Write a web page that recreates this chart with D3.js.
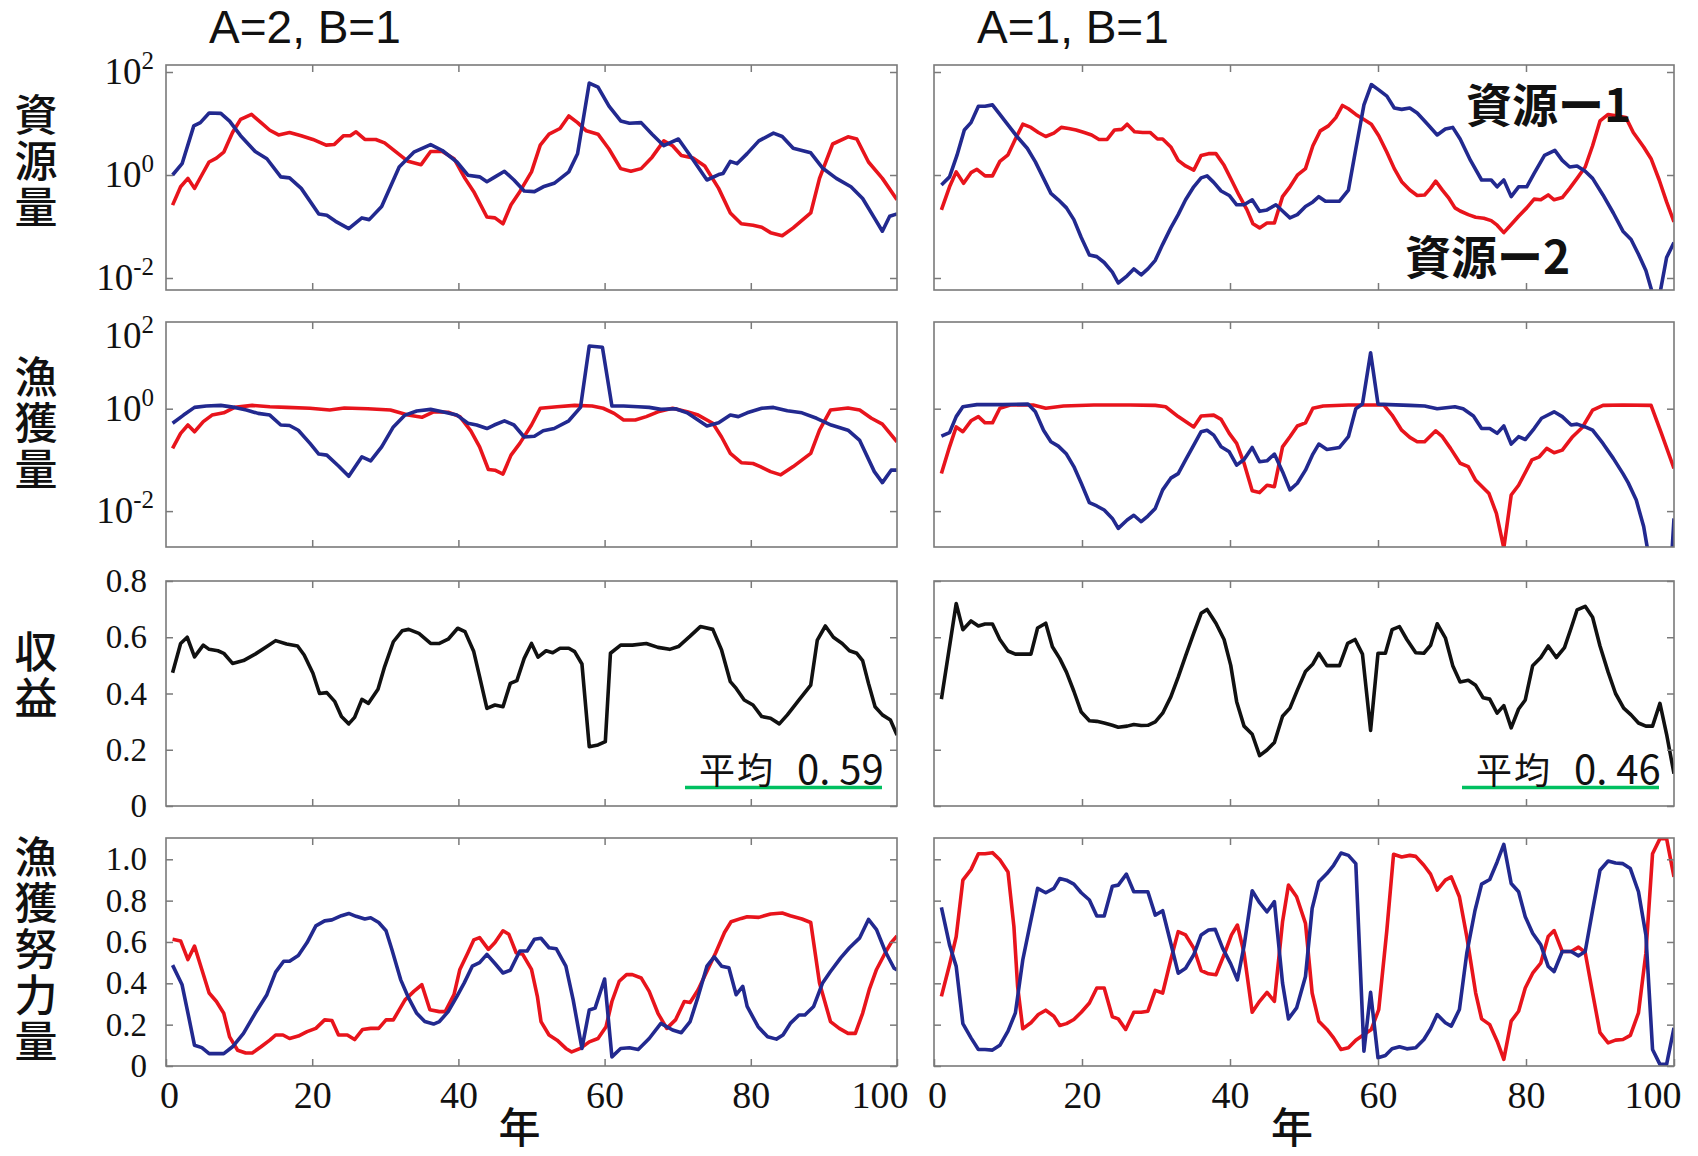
<!DOCTYPE html>
<html>
<head>
<meta charset="utf-8">
<script src="https://cdn.jsdelivr.net/npm/d3@7"></script>
<style>
  html, body { margin: 0; padding: 0; background: #fff; }
  svg { display: block; }
</style>
</head>
<body>
<svg id="chart" width="1698" height="1156"></svg>
<script>
// ---- data: [year, value] ----
const colTitles = ['A=2, B=1', 'A=1, B=1'];
const rowLabels = ['資源量', '漁獲量', '収益', '漁獲努力量'];
const seriesNames = ['資源ー1', '資源ー2'];
const meanLabels = ['平均 0. 59', '平均 0. 46'];
const xTicks = [0, 20, 40, 60, 80, 100];
const logTicks = [1e-2, 1, 1e2];
const revTicks = [0, 0.2, 0.4, 0.6, 0.8];
const effTicks = [0, 0.2, 0.4, 0.6, 0.8, 1.0];

// A=2, B=1
const stock1A2 = [[0.9,0.26],[2,0.59],[3,0.86],[3.9,0.55],[4.9,1.0],[5.9,1.79],[6.9,2.13],[7.9,2.77],[9.1,6.7],[10.2,12],[11.7,15],[13,10.4],[14.2,7.4],[15.4,6.0],[16.9,6.7],[18.5,5.8],[20.1,4.9],[21.9,3.8],[23,3.9],[24.3,5.8],[25.2,5.8],[26,6.9],[27.2,4.9],[28.7,4.9],[29.9,4.2],[31.5,2.77],[33.1,1.84],[34.9,1.59],[36.2,2.86],[37.8,2.86],[39.4,2.07],[40.9,0.86],[42.1,0.475],[43.9,0.153],[45,0.147],[46.1,0.113],[47.2,0.264],[48.4,0.475],[50,1.15],[51.2,3.8],[52.4,6.2],[53.9,8.0],[55.1,14],[56.3,10.4],[57.5,7.2],[59.1,6.2],[60.6,3.2],[62.2,1.33],[63.6,1.18],[65,1.33],[66.5,2.22],[68.1,4.6],[69.3,3.7],[70.5,2.4],[72.1,2.13],[73.7,1.5],[75.6,0.55],[77.2,0.183],[78.7,0.113],[80.3,0.106],[81.5,0.097],[82.7,0.076],[84.3,0.066],[85.8,0.094],[88.2,0.183],[89.4,0.86],[91.2,4.0],[93.3,5.5],[94.5,5.0],[96.1,1.79],[98,0.86],[100,0.33]];
const stock2A2 = [[0.9,1.0],[2.2,1.66],[3.8,9.0],[4.7,10.4],[5.9,16],[7.5,15.7],[8.7,11.1],[10.2,5.8],[12.2,2.86],[13.8,2.07],[15.7,0.92],[16.9,0.88],[18.5,0.55],[20.9,0.175],[22,0.165],[23.2,0.126],[25,0.091],[26.8,0.147],[27.8,0.136],[29.5,0.245],[31.9,1.43],[33.9,2.77],[36.2,3.9],[37.8,2.99],[39.8,1.79],[41.3,0.99],[42.9,0.92],[43.9,0.74],[44.9,0.90],[46.3,1.18],[47.6,0.80],[49,0.49],[50.4,0.475],[51.6,0.59],[53.1,0.69],[55.1,1.15],[56.3,2.58],[57.9,61],[59.1,51],[60.6,21.7],[62.2,11.2],[63.4,10.1],[65,10.4],[66.5,6.2],[68.1,3.7],[70.1,5.0],[71.7,2.4],[74,0.80],[75.6,1.02],[76.2,1.07],[77.2,1.84],[78.1,1.66],[79.5,2.6],[81.1,4.6],[83.1,6.5],[84.3,5.6],[85.8,3.3],[87,3.0],[88.2,2.7],[89.8,1.37],[91.7,0.86],[93.7,0.59],[95.3,0.35],[96.9,0.147],[98,0.081],[99,0.158],[100,0.175]];
const catch1A2 = [[0.9,0.168],[2,0.33],[3,0.48],[3.9,0.355],[5.1,0.56],[6.3,0.75],[7.9,0.83],[9.4,1.06],[11.8,1.16],[14.2,1.09],[16.5,1.06],[19.7,1.02],[22.4,0.94],[24.4,1.03],[27.6,1.0],[30.7,0.94],[33.1,0.75],[35,0.68],[36.6,0.87],[38.6,0.85],[40.2,0.70],[41.7,0.37],[42.9,0.18],[44.1,0.065],[45,0.063],[46.1,0.053],[47.2,0.124],[48.4,0.21],[50,0.48],[51.2,1.02],[53.5,1.09],[55.9,1.16],[58.3,1.13],[59.8,1.02],[61.3,0.81],[62.6,0.60],[64.2,0.60],[65.7,0.70],[67.3,0.87],[69.3,1.02],[71.3,0.87],[72.8,0.75],[74.8,0.52],[76,0.28],[77.2,0.134],[78.7,0.088],[80.3,0.085],[81.3,0.074],[82.7,0.059],[84.1,0.051],[85.8,0.074],[88.2,0.134],[89.4,0.38],[90.9,0.94],[93.3,1.03],[94.9,0.94],[96.5,0.65],[98,0.50],[100,0.226]];
const catch2A2 = [[0.9,0.52],[2.4,0.75],[3.9,1.06],[5.5,1.13],[7.5,1.16],[9.4,1.06],[11,0.94],[12.6,0.81],[14.2,0.75],[15.7,0.48],[16.9,0.47],[18.1,0.38],[19.7,0.21],[20.9,0.13],[22,0.124],[23.6,0.076],[25,0.048],[26.8,0.115],[28,0.096],[29.5,0.18],[31.1,0.44],[32.7,0.75],[34.3,0.90],[36.2,0.97],[37.8,0.87],[39.8,0.75],[41.3,0.52],[42.5,0.48],[43.9,0.41],[44.9,0.48],[46.3,0.58],[47.6,0.48],[49,0.28],[50.4,0.29],[51.6,0.37],[53.1,0.41],[55.1,0.58],[56.7,1.06],[57.9,16.8],[59.7,15.8],[61,1.13],[62.6,1.13],[64.6,1.09],[66.1,1.06],[67.7,0.97],[69.7,1.0],[71.3,0.83],[74,0.46],[75.6,0.53],[77.2,0.75],[78.3,0.70],[79.5,0.83],[81.5,1.02],[83.1,1.06],[85,0.91],[87,0.83],[89,0.65],[91,0.48],[93.3,0.38],[94.9,0.24],[96.9,0.059],[98,0.036],[99.2,0.063],[100,0.063]];
const revenueA2 = [[0.9,0.474],[2,0.578],[2.9,0.60],[3.9,0.53],[5.1,0.572],[5.9,0.557],[7.1,0.552],[7.9,0.543],[9.1,0.507],[10.6,0.517],[12.2,0.54],[13.8,0.567],[15,0.588],[16.5,0.576],[18,0.569],[18.9,0.537],[20.1,0.472],[21,0.40],[22,0.403],[23.1,0.371],[24,0.318],[25,0.292],[25.8,0.315],[26.8,0.379],[27.7,0.365],[29,0.415],[29.9,0.495],[31.1,0.584],[32.3,0.623],[33.2,0.628],[34.6,0.614],[36.2,0.578],[37.4,0.578],[38.6,0.593],[39.9,0.632],[40.9,0.62],[42.1,0.549],[42.9,0.46],[43.9,0.347],[45,0.359],[46.1,0.353],[47.1,0.436],[48,0.446],[49,0.525],[50,0.578],[50.9,0.529],[52,0.552],[52.9,0.545],[53.9,0.561],[55.1,0.561],[55.9,0.549],[56.9,0.505],[57.9,0.211],[59.1,0.217],[60.1,0.229],[60.8,0.543],[62.2,0.572],[63.8,0.572],[65.7,0.578],[67.3,0.564],[68.9,0.557],[70.1,0.567],[71.7,0.604],[73.1,0.638],[74.8,0.628],[76,0.555],[77.2,0.442],[78,0.418],[79.1,0.377],[80.3,0.359],[81.5,0.318],[82.7,0.312],[83.9,0.292],[85,0.324],[86.6,0.377],[88.2,0.43],[89.1,0.59],[90.2,0.64],[91.3,0.60],[92.5,0.578],[93.5,0.552],[94.5,0.543],[95.3,0.517],[96.1,0.436],[97,0.353],[98,0.324],[99.1,0.306],[100,0.252]];
const effort1A2 = [[0.9,0.613],[2,0.605],[3,0.515],[3.9,0.58],[4.9,0.467],[5.9,0.353],[6.9,0.312],[7.9,0.255],[8.7,0.141],[9.8,0.076],[10.9,0.063],[11.8,0.063],[13,0.093],[14.2,0.125],[15,0.15],[16,0.15],[16.9,0.133],[18.1,0.145],[19.3,0.166],[20.5,0.182],[21.7,0.223],[22.7,0.22],[23.6,0.15],[24.8,0.15],[25.8,0.128],[26.9,0.177],[28,0.182],[29.1,0.182],[30.1,0.223],[31.1,0.223],[31.9,0.272],[32.7,0.32],[33.9,0.361],[35,0.393],[36.1,0.272],[37.4,0.263],[38.2,0.263],[39.4,0.345],[40.2,0.467],[41.3,0.548],[42.1,0.61],[42.9,0.621],[44.1,0.564],[45,0.597],[46.1,0.654],[46.9,0.637],[47.9,0.548],[48.8,0.54],[50,0.467],[50.8,0.337],[51.3,0.215],[52.4,0.15],[53.5,0.125],[54.7,0.085],[55.5,0.068],[56.7,0.085],[57.9,0.117],[59.1,0.133],[60.2,0.19],[61,0.312],[62,0.41],[63,0.442],[63.8,0.442],[65,0.426],[66.1,0.361],[67.3,0.255],[68.5,0.182],[69.7,0.223],[70.9,0.312],[71.7,0.307],[72.8,0.369],[74,0.459],[75.2,0.548],[76.4,0.646],[77.3,0.698],[78.7,0.714],[79.5,0.722],[81.1,0.719],[82.7,0.735],[84.3,0.74],[85.4,0.727],[87,0.711],[88.2,0.694],[89.4,0.402],[90.9,0.215],[92.1,0.182],[93.3,0.158],[94.3,0.158],[95.3,0.255],[96.2,0.369],[97.2,0.467],[98.4,0.548],[99.2,0.597],[100,0.629]];
const effort2A2 = [[0.9,0.488],[2.2,0.393],[3.1,0.239],[3.9,0.10],[4.9,0.089],[5.9,0.06],[7.1,0.06],[7.9,0.06],[9.1,0.093],[10.6,0.158],[12.2,0.255],[13.8,0.345],[15,0.454],[16.1,0.507],[16.9,0.507],[18.1,0.535],[19.3,0.597],[20.5,0.678],[21.7,0.702],[22.7,0.707],[24,0.727],[25,0.738],[26,0.724],[27.2,0.711],[28,0.717],[29.1,0.694],[30.1,0.654],[30.9,0.564],[32.1,0.418],[33.2,0.328],[34.3,0.255],[35.4,0.215],[36.6,0.203],[37.4,0.215],[38.6,0.263],[39.8,0.337],[40.8,0.402],[41.9,0.483],[42.9,0.50],[43.9,0.54],[45,0.496],[46.1,0.45],[47.1,0.463],[48.4,0.556],[49.4,0.556],[50.4,0.613],[51.3,0.618],[52.4,0.572],[53.4,0.567],[54.7,0.483],[55.7,0.32],[56.9,0.085],[57.9,0.271],[58.7,0.28],[60,0.421],[61,0.044],[62.2,0.085],[63.4,0.088],[64.6,0.08],[66.1,0.133],[67.7,0.206],[69.3,0.174],[70.5,0.161],[71.7,0.215],[72.8,0.337],[74,0.483],[75,0.528],[76,0.483],[77,0.475],[78,0.345],[78.9,0.385],[79.5,0.288],[81,0.19],[82.3,0.141],[83.5,0.13],[84.4,0.15],[85.4,0.206],[86.6,0.247],[87.4,0.247],[88.6,0.288],[89.8,0.40],[90.9,0.457],[92.3,0.523],[93.5,0.572],[94.9,0.62],[96.1,0.709],[97.2,0.66],[98.4,0.554],[99.6,0.473],[100,0.465]];

// A=1, B=1
const stock1A1 = [[1,0.21],[2.1,0.59],[3,1.15],[4,0.69],[5,1.11],[5.8,1.29],[6.9,0.96],[7.9,0.96],[8.9,1.84],[10,2.47],[11,5.0],[12,9.7],[13.1,8.4],[14.1,6.7],[15.1,5.6],[16.2,6.5],[17.2,8.4],[18.2,8.0],[19.2,7.5],[20.3,6.7],[21.3,6.0],[22.3,4.9],[23.4,4.9],[24.4,7.5],[25.4,7.7],[26.1,9.7],[27.1,6.9],[28.2,6.7],[29.2,6.7],[30.2,5.0],[30.9,5.0],[32,3.5],[33,1.92],[34,1.5],[35.1,1.24],[36.1,2.4],[37.1,2.6],[38.1,2.6],[39.2,1.54],[40.2,0.80],[41.2,0.41],[42.3,0.21],[43.1,0.113],[44,0.094],[45,0.117],[46,0.117],[47.1,0.38],[48.1,0.59],[49.1,0.99],[50.2,1.33],[51.2,3.7],[52.2,7.2],[53.3,9.0],[54.3,13],[55.2,22.4],[56,19.3],[57,15],[58.1,12],[59.1,9.7],[60.1,5.8],[61.2,2.77],[62.2,1.33],[63.2,0.74],[64.3,0.51],[65.3,0.40],[66.3,0.41],[67.1,0.55],[67.8,0.76],[68.7,0.51],[69.6,0.35],[70.4,0.23],[71.1,0.20],[72.2,0.17],[73.2,0.151],[74.3,0.145],[75.3,0.13],[76.1,0.106],[77,0.076],[78,0.109],[79,0.158],[80.1,0.23],[81.1,0.34],[82,0.33],[83,0.41],[83.8,0.33],[84.9,0.365],[85.9,0.55],[86.9,0.86],[88,1.43],[89,3.7],[90,11.2],[91.1,15],[92.4,14],[93.5,13],[94.5,6.7],[95.9,3.5],[96.9,2.07],[98,0.80],[99,0.30],[100,0.123]];
const stock2A1 = [[1,0.64],[2.1,0.92],[3.1,2.4],[4.1,7.5],[5,10.4],[6,21.7],[6.9,21.7],[7.9,23],[8.9,15],[10.1,9.0],[11.3,5.4],[12.6,3.3],[13.7,1.8],[14.8,0.86],[15.8,0.44],[16.8,0.33],[17.9,0.23],[18.9,0.136],[19.9,0.061],[21,0.028],[22,0.026],[23,0.020],[24.1,0.013],[24.9,0.008],[26.1,0.011],[27,0.015],[28,0.0115],[28.9,0.015],[29.9,0.022],[30.9,0.045],[32,0.094],[33,0.17],[34,0.33],[35.1,0.59],[36.1,0.88],[36.9,0.96],[37.8,0.72],[38.8,0.49],[39.9,0.40],[40.9,0.264],[41.9,0.264],[43,0.33],[44,0.197],[45,0.21],[46.2,0.264],[47.1,0.20],[48.1,0.147],[49.1,0.17],[50.2,0.245],[51.2,0.30],[52,0.38],[52.9,0.31],[53.9,0.31],[54.8,0.31],[56,0.51],[57,3.2],[58.1,23],[59.1,57],[60.1,45],[61.2,34],[62.2,20],[63.2,18.8],[64.3,20],[65.3,16],[66.7,9.7],[68,6.0],[69.1,7.8],[70.1,8.4],[71.1,5.0],[72.5,1.92],[74,0.80],[75.3,0.80],[76.1,0.59],[77,0.80],[78,0.38],[79,0.59],[80.1,0.59],[81.1,1.07],[82.5,2.4],[83.9,3.0],[84.9,1.92],[85.9,1.43],[86.9,1.5],[88,1.18],[89,0.86],[90.4,0.41],[91.8,0.183],[93.1,0.081],[94.2,0.056],[95.2,0.029],[96.2,0.014],[97.1,0.005],[98.1,0.005],[99,0.025],[100,0.049]];
const catch1A1 = [[1,0.054],[2.1,0.18],[3,0.44],[3.9,0.355],[5,0.58],[6,0.70],[6.9,0.53],[7.9,0.53],[8.9,1.02],[10.3,1.18],[13.4,1.18],[15.1,1.02],[17.5,1.13],[21.6,1.18],[26.5,1.18],[29.9,1.16],[31.3,1.09],[33,0.70],[35.1,0.44],[36.1,0.72],[37.8,0.75],[38.8,0.62],[39.9,0.33],[40.9,0.21],[41.9,0.086],[43,0.025],[44,0.023],[45,0.032],[46,0.030],[47.1,0.18],[48.1,0.284],[49.1,0.46],[50.2,0.53],[51.2,1.02],[52.6,1.13],[56,1.18],[60.8,1.18],[61.9,0.75],[63.2,0.38],[64.3,0.275],[65.3,0.226],[66.3,0.226],[67.8,0.37],[68.7,0.284],[69.8,0.168],[71.1,0.086],[72.2,0.074],[73.2,0.040],[75,0.022],[76,0.009],[77,0.0019],[78,0.0206],[79,0.032],[80.8,0.1],[81.8,0.115],[82.8,0.168],[83.8,0.138],[84.9,0.155],[86.3,0.284],[87.6,0.43],[89,0.94],[90.4,1.16],[93.1,1.18],[96.9,1.16],[98.3,0.33],[100,0.068]];
const catch2A1 = [[1,0.29],[2.1,0.34],[3,0.70],[3.9,1.09],[5.8,1.2],[9.3,1.2],[12.7,1.23],[13.7,0.87],[14.8,0.38],[15.8,0.226],[16.8,0.186],[17.9,0.13],[18.9,0.074],[19.9,0.035],[21,0.0146],[22,0.0126],[23,0.0105],[24.1,0.0072],[24.9,0.0046],[26.1,0.0067],[27,0.0083],[28,0.0062],[28.9,0.008],[29.9,0.0113],[30.9,0.026],[32,0.044],[33,0.054],[34,0.1],[35.1,0.195],[36.1,0.355],[36.9,0.38],[37.8,0.305],[38.8,0.18],[39.9,0.144],[40.9,0.079],[41.9,0.102],[43,0.175],[44,0.092],[45,0.096],[46,0.13],[47.1,0.059],[48.1,0.026],[49.1,0.035],[50.2,0.063],[51.2,0.13],[52,0.204],[53.1,0.16],[54.8,0.175],[56,0.284],[57,1.0],[57.9,1.23],[59,12.4],[60,1.23],[61.5,1.2],[64.3,1.16],[66.3,1.13],[68,1.0],[70.4,1.09],[71.5,1.0],[72.9,0.72],[74,0.41],[75.1,0.41],[76.1,0.33],[77,0.46],[78,0.204],[79,0.284],[79.9,0.25],[81.1,0.41],[82.1,0.65],[83.8,0.87],[84.9,0.70],[86.1,0.48],[86.9,0.50],[88,0.44],[89,0.38],[90.4,0.21],[91.8,0.107],[93.1,0.054],[93.8,0.036],[94.9,0.0164],[95.9,0.005],[96.4,0.0019],[97.5,0.0008],[99.6,0.0008],[100,0.0072]];
const revenueA1 = [[1,0.38],[3,0.72],[3.9,0.627],[5,0.658],[6,0.64],[6.9,0.647],[7.9,0.647],[8.9,0.592],[10,0.551],[11,0.54],[13.1,0.54],[14,0.633],[15.1,0.65],[16,0.566],[17,0.524],[17.9,0.476],[18.9,0.408],[19.9,0.334],[21,0.303],[22,0.301],[23,0.295],[24.1,0.287],[24.9,0.28],[26.1,0.284],[27,0.29],[28,0.286],[28.9,0.287],[29.9,0.299],[30.9,0.33],[32,0.388],[33,0.458],[34,0.534],[35.1,0.615],[36.1,0.685],[36.9,0.699],[38.1,0.65],[39.2,0.592],[40.1,0.50],[40.9,0.371],[41.9,0.284],[43,0.255],[44,0.179],[45,0.199],[46,0.226],[47.1,0.319],[48.1,0.348],[49.1,0.412],[50.2,0.478],[51.2,0.505],[52,0.543],[53.1,0.499],[54.8,0.499],[55.9,0.578],[56.9,0.592],[57.9,0.54],[59,0.269],[60,0.543],[61,0.543],[61.9,0.627],[62.9,0.638],[63.9,0.592],[65.1,0.545],[66.2,0.543],[67.1,0.571],[68,0.648],[69.1,0.598],[70.1,0.499],[71.1,0.441],[72.2,0.447],[73.2,0.429],[74.2,0.385],[75.1,0.38],[76.1,0.33],[77,0.357],[78,0.278],[79,0.345],[79.9,0.377],[80.9,0.499],[82,0.528],[83,0.569],[84.1,0.528],[85.2,0.563],[86.1,0.633],[86.9,0.697],[88,0.71],[89,0.671],[90,0.569],[91.1,0.476],[92.1,0.40],[93.2,0.348],[94.2,0.324],[95.2,0.295],[96.2,0.284],[97.1,0.284],[98.1,0.365],[99,0.255],[100,0.115]];
const effort1A1 = [[1,0.337],[2.1,0.49],[3,0.626],[3.9,0.899],[5,0.95],[6,1.027],[6.9,1.027],[7.9,1.032],[8.9,0.998],[10,0.939],[10.8,0.674],[11.3,0.385],[12,0.18],[13.1,0.209],[14.1,0.249],[15.1,0.27],[16.2,0.241],[17,0.196],[17.9,0.205],[18.9,0.225],[19.9,0.26],[21,0.305],[22,0.377],[23,0.377],[24.1,0.238],[24.9,0.228],[25.9,0.177],[27,0.26],[28,0.26],[28.9,0.265],[29.9,0.366],[30.9,0.353],[32,0.514],[33,0.65],[34,0.634],[35.1,0.57],[36.1,0.462],[37.1,0.446],[38.1,0.441],[39.2,0.538],[40.2,0.634],[41,0.682],[41.9,0.546],[43,0.26],[44,0.313],[45,0.356],[46,0.313],[47.1,0.698],[47.9,0.875],[49,0.819],[50.2,0.69],[51.1,0.353],[52,0.217],[53.1,0.177],[54,0.136],[55,0.08],[56,0.088],[57,0.125],[58.1,0.152],[59.1,0.177],[60.1,0.273],[61.2,0.658],[62.1,1.024],[63.2,1.011],[64.3,1.019],[65.1,1.014],[66.2,0.971],[67.1,0.928],[68,0.851],[69.1,0.899],[69.9,0.915],[71,0.819],[72,0.626],[73.2,0.353],[74,0.228],[75.1,0.2],[76.1,0.12],[77,0.032],[78,0.217],[79,0.265],[79.9,0.377],[80.9,0.449],[82,0.498],[83,0.626],[83.8,0.655],[84.9,0.554],[86.1,0.554],[87.1,0.575],[88,0.549],[89,0.353],[90,0.161],[91.1,0.112],[92.1,0.125],[93.1,0.128],[94.1,0.148],[95.2,0.257],[96.2,0.546],[97.1,1.027],[98.1,1.10],[99,1.10],[100,0.915]];
const effort2A1 = [[1,0.767],[2.1,0.586],[3,0.482],[3.9,0.205],[5,0.136],[6,0.08],[6.9,0.08],[7.9,0.077],[8.9,0.10],[10,0.169],[11,0.257],[12,0.514],[13.1,0.706],[14,0.859],[15.1,0.838],[16.2,0.859],[17,0.907],[17.9,0.899],[18.9,0.88],[19.9,0.838],[21,0.803],[22,0.726],[23,0.726],[24.1,0.87],[24.9,0.875],[26,0.928],[27,0.843],[28,0.843],[28.9,0.843],[29.9,0.73],[30.9,0.751],[32,0.594],[33,0.449],[34,0.473],[35.1,0.538],[36.1,0.634],[37.1,0.658],[38,0.661],[39,0.57],[40.1,0.494],[41,0.417],[41.9,0.581],[43,0.848],[44,0.79],[45,0.746],[46,0.795],[47.1,0.401],[47.9,0.228],[49,0.281],[50.2,0.433],[51.1,0.762],[52,0.891],[53.1,0.931],[54,0.971],[55,1.03],[56,1.019],[57,0.979],[58.1,0.072],[59,0.356],[60,0.04],[61,0.051],[61.9,0.083],[62.9,0.093],[63.9,0.083],[65.1,0.088],[66.2,0.128],[67.1,0.18],[68,0.249],[69.1,0.209],[69.9,0.193],[71,0.273],[72,0.546],[73.1,0.751],[74,0.88],[75.1,0.902],[76.1,0.987],[77,1.072],[78,0.883],[79,0.843],[79.9,0.722],[80.9,0.642],[82,0.586],[83,0.482],[83.8,0.457],[84.9,0.554],[86.1,0.554],[87.1,0.533],[88,0.554],[89,0.754],[90,0.947],[91.1,0.992],[92.1,0.982],[93.1,0.979],[94.1,0.955],[95.2,0.843],[96.2,0.634],[97.1,0.08],[98.1,0.008],[99,0.008],[100,0.185]];

// ---- layout ----
const RED = '#e8141c', BLUE = '#22298f', BLACK = '#111';
const colX = [[166, 897], [934, 1674]];
const rowY = [[65, 290], [322, 547], [581, 806], [838, 1066]];
const rowDomains = [
  {log: true, domain: [Math.pow(10, -2.233), Math.pow(10, 2.136)], ticks: logTicks},
  {log: true, domain: [Math.pow(10, -2.701), Math.pow(10, 1.693)], ticks: [1e-2, 1]},
  {log: false, domain: [0, 0.8], ticks: revTicks},
  {log: false, domain: [0, 1.103], ticks: effTicks}
];
const panelSeries = [
  [[[stock1A2, RED], [stock2A2, BLUE]], [[stock1A1, RED], [stock2A1, BLUE]]],
  [[[catch1A2, RED], [catch2A2, BLUE]], [[catch1A1, RED], [catch2A1, BLUE]]],
  [[[revenueA2, BLACK]], [[revenueA1, BLACK]]],
  [[[effort1A2, RED], [effort2A2, BLUE]], [[effort1A1, RED], [effort2A1, BLUE]]]
];

const svg = d3.select('#chart');
svg.append('rect').attr('width', 1698).attr('height', 1156).attr('fill', '#fff');

const serif = '"Liberation Serif", "Times New Roman", serif';
const cjk = '"Noto Sans CJK JP", "Noto Sans CJK SC", sans-serif';

function styleAxis(g) {
  g.select('.domain').remove();
  g.selectAll('.tick line').attr('stroke', '#7a7a7a').attr('stroke-width', 1.5);
  g.selectAll('.tick text').attr('fill', '#111').attr('font-family', serif);
}

function logLabel(sel) {
  sel.each(function (d) {
    const t = d3.select(this);
    t.text(null);
    t.append('tspan').text('10');
    t.append('tspan').attr('dy', '-0.6em').attr('font-size', '25px').text(Math.round(Math.log10(d)));
  });
}

rowY.forEach(([y0, y1], r) => {
  colX.forEach(([x0, x1], c) => {
    const spec = rowDomains[r];
    const x = d3.scaleLinear().domain([0, 100]).range([x0, x1]);
    const y = (spec.log ? d3.scaleLog() : d3.scaleLinear()).domain(spec.domain).range([y1, y0]);
    const id = 'clip' + r + c;
    svg.append('clipPath').attr('id', id)
      .append('rect').attr('x', x0).attr('y', y0).attr('width', x1 - x0).attr('height', y1 - y0);

    const line = d3.line().x(d => x(d[0])).y(d => y(d[1]));
    const lines = svg.append('g').attr('clip-path', 'url(#' + id + ')');
    panelSeries[r][c].forEach(([data, color]) => {
      lines.append('path').datum(data)
        .attr('d', line)
        .attr('fill', 'none')
        .attr('stroke', color)
        .attr('stroke-width', 3.6)
        .attr('stroke-linejoin', 'round');
    });

    // frame
    svg.append('rect').attr('x', x0).attr('y', y0).attr('width', x1 - x0).attr('height', y1 - y0)
      .attr('fill', 'none').attr('stroke', '#7a7a7a').attr('stroke-width', 1.6);

    // x ticks top and bottom (inside)
    svg.append('g').attr('transform', `translate(0,${y0})`)
      .call(d3.axisTop(x).tickValues(xTicks.slice(1, -1)).tickSize(-7).tickFormat(''))
      .call(styleAxis);
    const bottom = svg.append('g').attr('transform', `translate(0,${y1})`)
      .call(d3.axisBottom(x).tickValues(r === 3 ? xTicks : xTicks.slice(1, -1)).tickSize(-7).tickPadding(15)
        .tickFormat(r === 3 ? d3.format('d') : ''))
      .call(styleAxis);
    bottom.selectAll('.tick text').attr('font-size', '38px');
    bottom.selectAll('.tick text').filter(d => d === 0).attr('dx', 3);
    bottom.selectAll('.tick text').filter(d => d === 100).attr('text-anchor', 'end').attr('dx', c === 0 ? 11 : 7);

    // y ticks left and right (inside)
    const fmt = spec.log ? (d => d) : (d => d === 0 ? '0' : d3.format('.1f')(d));
    const left = svg.append('g').attr('transform', `translate(${x0},0)`)
      .call(d3.axisLeft(y).tickValues(spec.ticks).tickSize(-7).tickPadding(spec.log ? 12 : 19)
        .tickFormat(c === 0 ? fmt : ''))
      .call(styleAxis);
    left.selectAll('.tick text').attr('font-size', spec.log ? '37px' : '33px');
    if (spec.log && c === 0) left.selectAll('.tick text').call(logLabel);
    svg.append('g').attr('transform', `translate(${x1},0)`)
      .call(d3.axisRight(y).tickValues(spec.ticks).tickSize(-7).tickFormat(''))
      .call(styleAxis);

    // 10^2 label sits at the top of the catch panel
    if (r === 1 && c === 0) {
      svg.append('text').datum(100)
        .attr('x', x0 - 12).attr('y', y0 + 14).attr('dy', '0.32em')
        .attr('text-anchor', 'end').attr('font-family', serif).attr('font-size', '37px').attr('fill', '#111')
        .call(logLabel);
    }

    // mean revenue note
    if (r === 2) {
      const [word, num] = meanLabels[c].split(/ (.+)/);
      svg.append('line')
        .attr('x1', x1 - 212).attr('x2', x1 - 15).attr('y1', y1 - 18.5).attr('y2', y1 - 18.5)
        .attr('stroke', '#00c060').attr('stroke-width', 3.5);
      const note = svg.append('text')
        .attr('y', y1 - 22)
        .attr('font-family', cjk).attr('fill', '#111');
      note.append('tspan').attr('x', x1 - 198).attr('font-size', '36px').attr('letter-spacing', 2).text(word);
      note.append('tspan').attr('x', x1 - 100).attr('font-size', '40px').text(num);
    }
  });
});

// column titles
colX.forEach(([x0], c) => {
  svg.append('text').attr('x', x0 + 43).attr('y', 43)
    .attr('font-family', '"Liberation Sans", Arial, sans-serif').attr('font-size', '46px').attr('fill', '#111')
    .text(colTitles[c]);
  // x axis title
  const [a, b] = colX[c];
  svg.append('text').attr('x', (a + b) / 2 - 12).attr('y', 1143)
    .attr('text-anchor', 'middle').attr('font-family', cjk).attr('font-weight', 500)
    .attr('font-size', '42px').attr('fill', '#111').text('年');
});

// vertical row labels (one vertical text per row)
const labelShift = [-15, -10, -17, -2];
svg.append('g').selectAll('text').data(rowLabels).join('text')
  .attr('x', 36)
  .attr('y', (d, r) => (rowY[r][0] + rowY[r][1]) / 2 + labelShift[r])
  .attr('text-anchor', 'middle')
  .style('writing-mode', 'vertical-rl')
  .attr('letter-spacing', 3)
  .attr('font-family', cjk).attr('font-weight', 500).attr('font-size', '43px').attr('fill', '#111')
  .text(d => d);

// series labels in the top right panel
const [rx0, rx1] = colX[1];
svg.append('text').attr('x', rx1 - 208).attr('y', rowY[0][0] + 57)
  .attr('font-family', cjk).attr('font-weight', 700).attr('font-size', '46px').attr('fill', '#111')
  .text(seriesNames[0]);
svg.append('text').attr('x', rx1 - 269).attr('y', rowY[0][0] + 209)
  .attr('font-family', cjk).attr('font-weight', 700).attr('font-size', '46px').attr('fill', '#111')
  .text(seriesNames[1]);
</script>
</body>
</html>
